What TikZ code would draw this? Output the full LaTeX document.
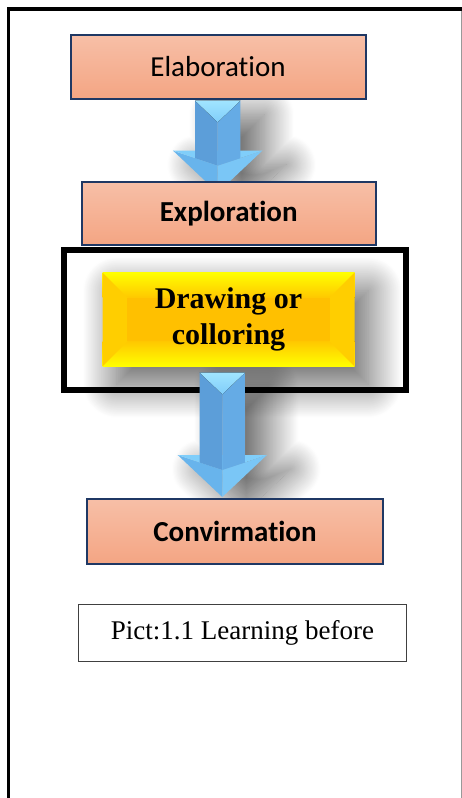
\documentclass[tikz,border=0pt]{standalone}
\usepackage{fontspec}
\setmainfont{Liberation Serif}
\newfontfamily\calibri[Ligatures=NoCommon]{Carlito}
\usetikzlibrary{shadows.blur}

\definecolor{salmontop}{RGB}{247,191,167}
\definecolor{salmonbot}{RGB}{244,165,131}
\definecolor{navy}{RGB}{31,56,100}
\definecolor{shaftdark}{RGB}{92,158,217}
\definecolor{shaftlight}{RGB}{101,171,229}
\definecolor{bevelblue}{RGB}{128,206,250}
\definecolor{bevelpale}{RGB}{160,228,255}
\definecolor{headleft}{RGB}{104,180,236}
\definecolor{headright}{RGB}{122,198,246}
\definecolor{goldmid}{RGB}{255,192,0}
\definecolor{goldband}{RGB}{255,200,0}
\definecolor{goldedge}{RGB}{255,206,0}

\begin{document}
\begin{tikzpicture}[x=1pt, y=-1pt,
    phase/.style = {draw=navy, line width=2pt, top color=salmontop, bottom color=salmonbot,
                    minimum width=295pt, minimum height=64pt, inner sep=0pt,
                    font=\calibri\fontsize{29}{34}\selectfont},
    plaque/.style = {minimum width=251.6pt, minimum height=93.3pt, inner sep=0pt, fill=goldmid,
                     blur shadow={shadow xshift=14pt, shadow yshift=-18pt, shadow blur radius=34pt,
                                  shadow blur steps=50, shadow opacity=65}},
    arrowshadow/.style = {blur shadow={shadow xshift=24pt, shadow yshift=-14pt, shadow blur radius=30pt,
                                       shadow blur steps=50, shadow opacity=60}},
    caption/.style = {draw=black!75, line width=1pt, minimum width=328.6pt, minimum height=56.4pt,
                      inner sep=0pt, font=\fontsize{27}{32}\selectfont}]

    \useasboundingbox (0,0) rectangle (462,798);

    % page border
    \draw[line width=3.5pt] (8.5,798) -- (8.5,8.75) -- (462,8.75);
    \draw[black!40, line width=1.2pt] (461.3,10.5) -- (461.3,798);

    \node[draw, line width=6pt, minimum width=342.6pt, minimum height=140pt, inner sep=0pt] (frame) at (235,319.7) {};

    % shadows of the block arrows
    \coordinate (arrA) at (217.7,100.7);
    \coordinate (arrB) at (222.3,372.7);
    \foreach \s/\len in {arrA/50, arrB/82.3}
        \path[arrowshadow, shift={(\s)}]
            (-22.6,0) -- (22.6,0) -- (22.6,\len) -- (44.6,\len) -- (0,\len+42) -- (-44.6,\len) -- (-22.6,\len) -- cycle;

    \node[phase] (elab) at (218,67) {Elaboration};

    \node[plaque] (draw) at (228.5,319.4) {};
    % bevel of the plaque
    \fill[top color=yellow, bottom color=goldband] (draw.north west) rectangle ([yshift=-25pt]draw.north east);
    \fill[top color=goldband, bottom color=yellow] (draw.south west) rectangle ([yshift=25pt]draw.south east);
    \fill[goldedge] (draw.north west) -- ([shift={(25,25)}]draw.north west)
        -- ([shift={(25,-25)}]draw.south west) -- (draw.south west) -- cycle;
    \fill[goldedge] (draw.north east) -- ([shift={(-25,25)}]draw.north east)
        -- ([shift={(-25,-25)}]draw.south east) -- (draw.south east) -- cycle;
    \fill[goldmid] ([shift={(24.5,25)}]draw.north west) rectangle ([shift={(-24.5,-25)}]draw.south east);
    \node[align=center, font=\bfseries\fontsize{30}{36}\selectfont] (drawtxt) at (draw) {Drawing or\\colloring};

    % block arrows
    \foreach \s/\len in {arrA/50, arrB/82.3} {
        \begin{scope}[shift={(\s)}]
            \fill[headleft] (-44.6,\len) -- (0,\len+15) -- (0,\len+42) -- cycle;
            \fill[headright] (44.6,\len) -- (0,\len+15) -- (0,\len+42) -- cycle;
            \fill[bevelblue] (-44.6,\len) -- (44.6,\len) -- (0,\len+15) -- cycle;
            \fill[shaftdark] (-22.6,0) -- (0,0) -- (0,\len+15) -- (-22.6,\len+7.5) -- cycle;
            \fill[shaftlight] (22.6,0) -- (0,0) -- (0,\len+15) -- (22.6,\len+7.5) -- cycle;
            \fill[top color=bevelpale, bottom color=bevelblue] (-22.6,0) -- (22.6,0) -- (0,21.5) -- cycle;
        \end{scope}
    }

    \node[phase, font=\calibri\bfseries\fontsize{29}{34}\selectfont, minimum width=294pt, minimum height=63pt] (expl) at (228.7,213.5) {Exploration};
    \node[phase, font=\calibri\bfseries\fontsize{29}{34}\selectfont, minimum width=296pt, minimum height=65.6pt] (conf) at (235,531.5) {Convirmation};

    \node[caption] (pict) at (242.5,633) {Pict:1.1 Learning before};
\end{tikzpicture}
\end{document}
